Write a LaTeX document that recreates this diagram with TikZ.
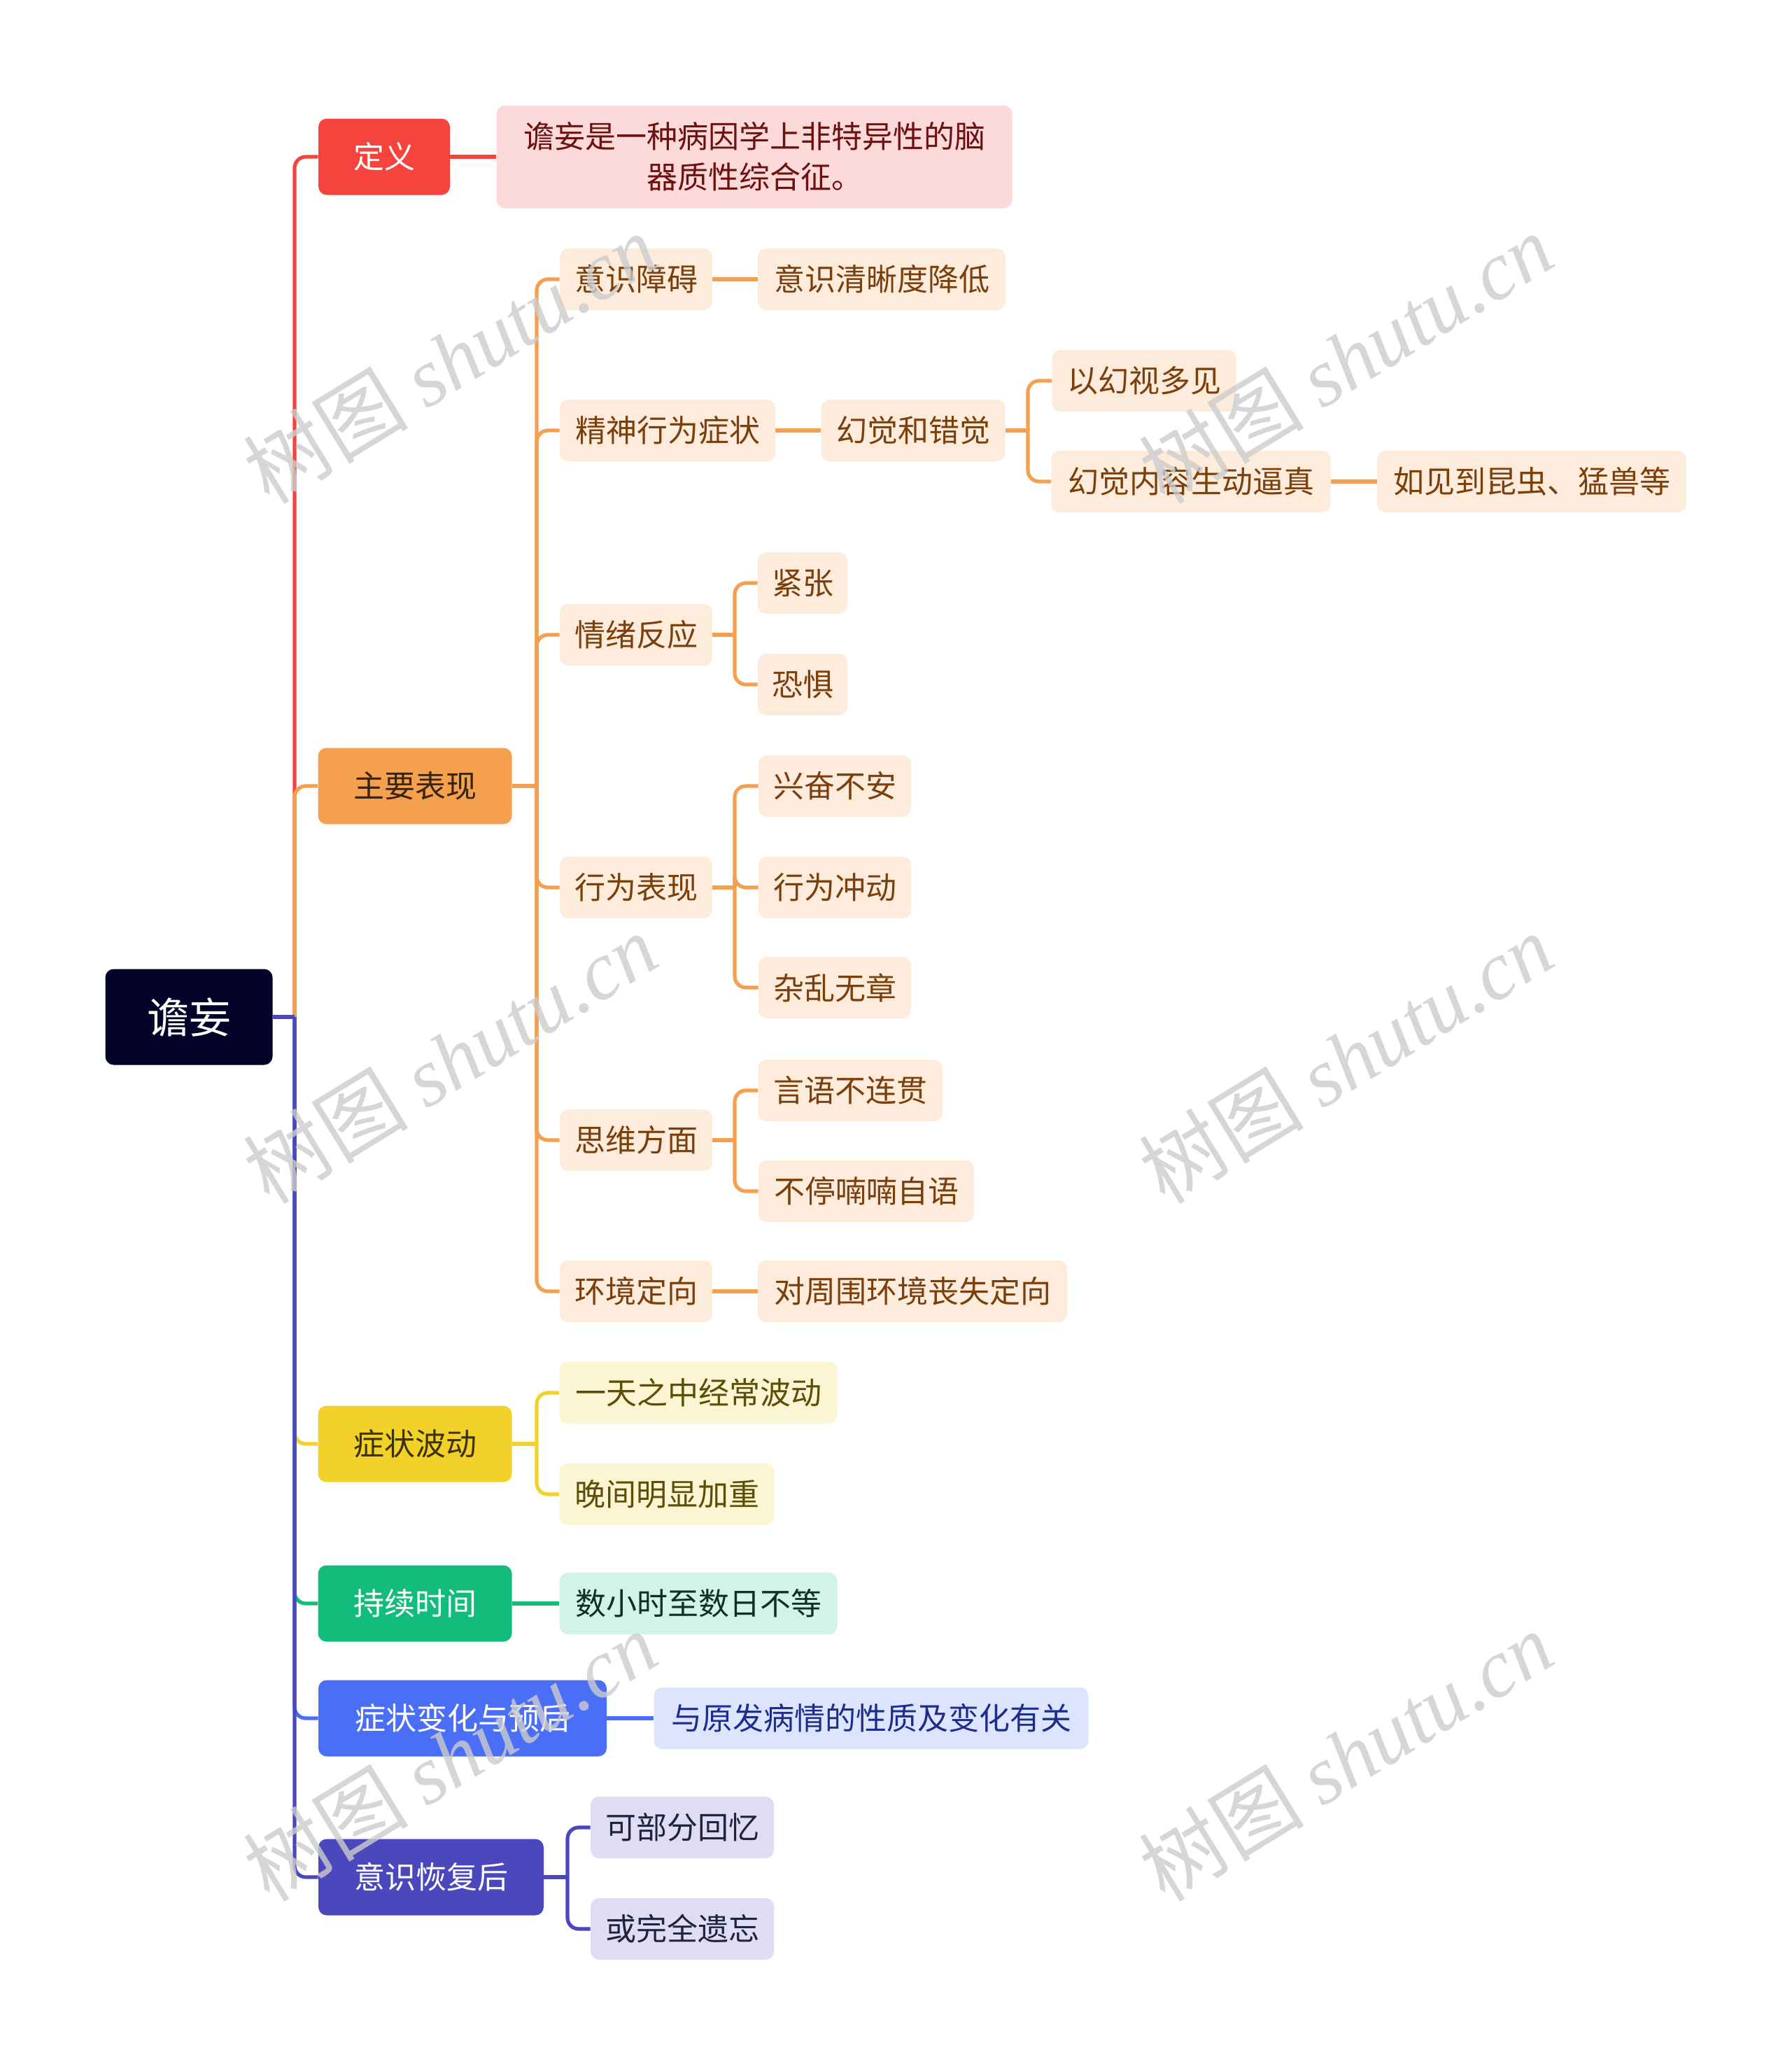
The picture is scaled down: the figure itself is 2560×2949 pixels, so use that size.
\documentclass[tikz,border=0pt]{standalone}
\usepackage{fontspec}
\setmainfont{Noto Sans CJK SC}
\newfontfamily\cjk{Noto Sans CJK SC}
\newfontfamily\wmfont{Liberation Serif}
\definecolor{cRoot}{HTML}{03032A}
\definecolor{cRed}{HTML}{F5443E}
\definecolor{cRedS}{HTML}{FDDADA}
\definecolor{cRedT}{HTML}{6E1010}
\definecolor{cOr}{HTML}{F4A04E}
\definecolor{cOrS}{HTML}{FDEBDC}
\definecolor{cOrT}{HTML}{7B3F0C}
\definecolor{cOrH}{HTML}{3A2410}
\definecolor{cYe}{HTML}{F2D12A}
\definecolor{cYeS}{HTML}{FCF5D4}
\definecolor{cYeT}{HTML}{5C4D07}
\definecolor{cYeH}{HTML}{3C3200}
\definecolor{cGr}{HTML}{12BD7C}
\definecolor{cGrS}{HTML}{D2F4E6}
\definecolor{cGrT}{HTML}{0F3124}
\definecolor{cBl}{HTML}{4A6FF6}
\definecolor{cBlS}{HTML}{DDE4FD}
\definecolor{cBlT}{HTML}{1D2D8C}
\definecolor{cPu}{HTML}{4B47BC}
\definecolor{cPuS}{HTML}{DEDDF3}
\definecolor{cPuT}{HTML}{22223F}
\pgfdeclarelayer{bg}
\pgfsetlayers{bg,main}
\tikzset{
  box/.style={rounded corners=6pt, inner sep=0pt, align=center, anchor=center, font=\fontsize{22}{29}\selectfont},
  bw/.style={minimum width=#1*0.5pt},
  bhgt/.style={minimum height=#1*0.5pt},
  rootbox/.style={box, fill=cRoot, text=white, font=\fontsize{30}{36}\selectfont, bw=239, bhgt=137},
  lone/.style={box, bhgt=109},
  ltwo/.style={box, bhgt=88},
  redbox/.style={lone, fill=cRed, text=white},
  redsub/.style={box, fill=cRedS, text=cRedT},
  orbox/.style={lone, fill=cOr, text=cOrH},
  orsub/.style={ltwo, fill=cOrS, text=cOrT},
  yebox/.style={lone, fill=cYe, text=cYeH},
  yesub/.style={ltwo, fill=cYeS, text=cYeT},
  grbox/.style={lone, fill=cGr, text=white},
  grsub/.style={ltwo, fill=cGrS, text=cGrT},
  blbox/.style={lone, fill=cBl, text=white},
  blsub/.style={ltwo, fill=cBlS, text=cBlT},
  pubox/.style={lone, fill=cPu, text=white},
  pusub/.style={ltwo, fill=cPuS, text=cPuT},
  conn/.style={line width=2.6pt, rounded corners=8pt},
  cred/.style={conn, draw=cRed},
  cor/.style={conn, draw=cOr},
  cye/.style={conn, draw=cYe},
  cgr/.style={conn, draw=cGr},
  cbl/.style={conn, draw=cBl},
  cpu/.style={conn, draw=cPu},
  wm/.style={rotate=31.5, text=black!20, opacity=0.8, inner sep=0pt, font=\fontsize{59}{63}\selectfont}
}
\begin{document}
\begin{tikzpicture}[x=0.5pt,y=-0.5pt]
\useasboundingbox (0,0) rectangle (2560,2949);
% nodes
\node[rootbox] (root) at (270,1453) {谵妄};
\node[redbox, bw=188] (dy) at (549,224) {定义};
\node[redsub, bw=737, bhgt=147] (dyt) at (1078,224) {谵妄是一种病因学上非特异性的脑\\器质性综合征。};
\node[orbox, bw=277] (zy) at (593,1123) {主要表现};
\node[orsub, bw=218] (a1) at (909,399) {意识障碍};
\node[orsub, bw=354] (a1c) at (1260,399) {意识清晰度降低};
\node[orsub, bw=308] (a2) at (954,615) {精神行为症状};
\node[orsub, bw=263] (a2c) at (1305,615) {幻觉和错觉};
\node[orsub, bw=263] (a2d1) at (1635,544) {以幻视多见};
\node[orsub, bw=399] (a2d2) at (1702,688) {幻觉内容生动逼真};
\node[orsub, bw=442] (a2e) at (2189,688) {如见到昆虫、猛兽等};
\node[orsub, bw=218] (a3) at (909,907) {情绪反应};
\node[orsub, bw=128] (a3a) at (1147,833) {紧张};
\node[orsub, bw=128] (a3b) at (1147,978) {恐惧};
\node[orsub, bw=218] (a4) at (909,1268) {行为表现};
\node[orsub, bw=218] (a4a) at (1193,1123) {兴奋不安};
\node[orsub, bw=218] (a4b) at (1193,1268) {行为冲动};
\node[orsub, bw=218] (a4c) at (1193,1411) {杂乱无章};
\node[orsub, bw=218] (a5) at (909,1629) {思维方面};
\node[orsub, bw=263] (a5a) at (1215,1558) {言语不连贯};
\node[orsub, bw=308] (a5b) at (1238,1702) {不停喃喃自语};
\node[orsub, bw=218] (a6) at (909,1845) {环境定向};
\node[orsub, bw=442] (a6a) at (1304,1845) {对周围环境丧失定向};
\node[yebox, bw=277] (bd) at (593,2063) {症状波动};
\node[yesub, bw=397] (bd1) at (998,1990) {一天之中经常波动};
\node[yesub, bw=307] (bd2) at (953,2135) {晚间明显加重};
\node[grbox, bw=277] (cx) at (593,2291) {持续时间};
\node[grsub, bw=397] (cx1) at (998,2291) {数小时至数日不等};
\node[blbox, bw=412] (bhy) at (661,2455) {症状变化与预后};
\node[blsub, bw=621] (bhy1) at (1245,2455) {与原发病情的性质及变化有关};
\node[pubox, bw=322] (hf) at (616,2682) {意识恢复后};
\node[pusub, bw=262] (hf1) at (975,2611) {可部分回忆};
\node[pusub, bw=262] (hf2) at (975,2756) {或完全遗忘};
% connectors
\begin{pgfonlayer}{bg}
\fill[white] (0,0) rectangle (2560,2949);
\coordinate (j0) at (421,1453);
\coordinate (j1) at (767,1123);
\coordinate (j2) at (1469,615);
\coordinate (j3) at (1050,907);
\coordinate (j4) at (1050,1268);
\coordinate (j5) at (1050,1629);
\coordinate (j6) at (767,2063);
\coordinate (j7) at (811,2682);
\draw[cred] (j0) |- (dy.west);
\draw[cor] (j0) |- (zy.west);
\draw[cye] (j0) |- (bd.west);
\draw[cgr] (j0) |- (cx.west);
\draw[cbl] (j0) |- (bhy.west);
\draw[cpu] (j0) |- (hf.west);
\draw[cpu] (root.east) -- (j0);
\draw[cred] (dy.east) -- (dyt.west);
\draw[cor] (zy.east) -- (j1);
\foreach \c in {a1,a2,a3,a4,a5,a6} \draw[cor] (j1) |- (\c.west);
\draw[cor] (a1.east) -- (a1c.west);
\draw[cor] (a2.east) -- (a2c.west);
\draw[cor] (a2c.east) -- (j2);
\draw[cor] (j2) |- (a2d1.west);
\draw[cor] (j2) |- (a2d2.west);
\draw[cor] (a2d2.east) -- (a2e.west);
\draw[cor] (a3.east) -- (j3);
\draw[cor] (j3) |- (a3a.west);
\draw[cor] (j3) |- (a3b.west);
\draw[cor] (a4.east) -- (j4);
\draw[cor] (j4) |- (a4a.west);
\draw[cor] (j4) |- (a4b.west);
\draw[cor] (j4) |- (a4c.west);
\draw[cor] (a5.east) -- (j5);
\draw[cor] (j5) |- (a5a.west);
\draw[cor] (j5) |- (a5b.west);
\draw[cor] (a6.east) -- (a6a.west);
\draw[cye] (bd.east) -- (j6);
\draw[cye] (j6) |- (bd1.west);
\draw[cye] (j6) |- (bd2.west);
\draw[cgr] (cx.east) -- (cx1.west);
\draw[cbl] (bhy.east) -- (bhy1.west);
\draw[cpu] (hf.east) -- (j7);
\draw[cpu] (j7) |- (hf1.west);
\draw[cpu] (j7) |- (hf2.west);
\end{pgfonlayer}
% watermarks
\foreach \x/\y [count=\i] in {643/512, 1923/512, 643/1512, 1923/1512, 643/2509, 1923/2509}
  \node[wm] (wm\i) at (\x,\y) {\cjk 树图 \wmfont\itshape shutu.cn};
\end{tikzpicture}
\end{document}
